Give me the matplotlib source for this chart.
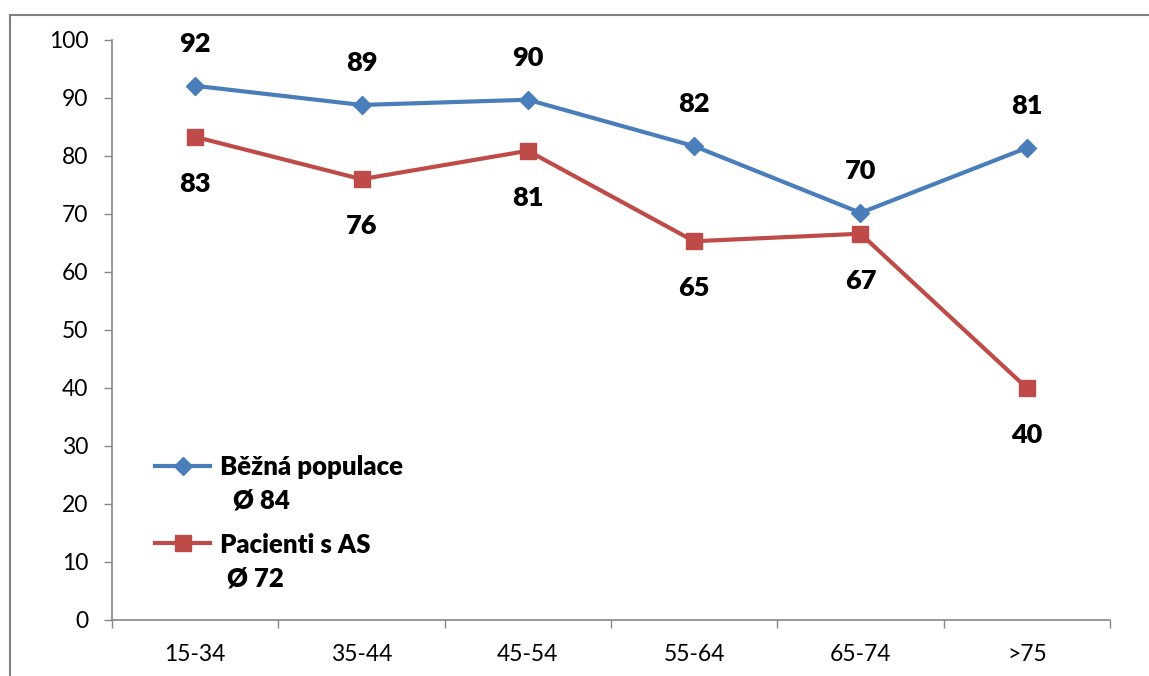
import matplotlib
matplotlib.use('Agg')
import matplotlib.pyplot as plt
from matplotlib.lines import Line2D

plt.rcParams['font.family'] = ['Lato', 'DejaVu Sans']

# data
categories = ['15-34', '35-44', '45-54', '55-64', '65-74', '>75']
bezna = [92.1, 88.8, 89.7, 81.7, 70.2, 81.4]
bezna_labels = ['92', '89', '90', '82', '70', '81']
pacienti = [83.3, 76.0, 80.9, 65.3, 66.6, 40.0]
pacienti_labels = ['83', '76', '81', '65', '67', '40']
yticks = [0, 10, 20, 30, 40, 50, 60, 70, 80, 90, 100]

blue = '#4A7EBB'
red = '#BE4B48'
axis_gray = '#868686'

W, H = 1149, 676
fig = plt.figure(figsize=(W / 100, H / 100), dpi=100)
ax = fig.add_axes([112 / W, 1 - 620 / H, 998 / W, 580 / H])

x = list(range(len(categories)))
ax.plot(x, bezna, color=blue, lw=3, marker='D', ms=9, zorder=3)
ax.plot(x, pacienti, color=red, lw=3, marker='s', ms=11, zorder=3)

for xi, v, lab in zip(x, bezna, bezna_labels):
    ax.annotate(lab, (xi, v), xytext=(0, 30), textcoords='offset points',
                ha='center', va='center', fontsize=19.5, fontweight='heavy')
for xi, v, lab in zip(x, pacienti, pacienti_labels):
    ax.annotate(lab, (xi, v), xytext=(0, -34), textcoords='offset points',
                ha='center', va='center', fontsize=19.5, fontweight='heavy')

ax.set_xlim(-0.5, len(categories) - 0.5)
ax.set_ylim(0, 100)
ax.set_yticks(yticks)
ax.tick_params(axis='y', length=6, width=1, color=axis_gray, pad=11, labelsize=16.5)

# category boundaries as major ticks, labels on minor ticks
ax.set_xticks([i - 0.5 for i in range(len(categories) + 1)])
ax.set_xticklabels([])
ax.set_xticks(x, minor=True)
ax.set_xticklabels(categories, minor=True)
ax.tick_params(axis='x', which='major', length=6, width=1, color=axis_gray)
ax.tick_params(axis='x', which='minor', length=0, pad=17, labelsize=16.5)

for s in ['top', 'right']:
    ax.spines[s].set_visible(False)
for s in ['left', 'bottom']:
    ax.spines[s].set_color(axis_gray)
    ax.spines[s].set_linewidth(1.2)

# manual legend
def fx(px):
    return px / W

def fy(py):
    return 1 - py / H

fig.add_artist(Line2D([fx(155), fx(210)], [fy(466), fy(466)], color=blue, lw=3))
fig.add_artist(Line2D([fx(182.5)], [fy(466)], color=blue, marker='D', ms=9))
fig.add_artist(Line2D([fx(155), fx(210)], [fy(543), fy(543)], color=red, lw=3))
fig.add_artist(Line2D([fx(182.5)], [fy(543)], color=red, marker='s', ms=11))
legend_font = dict(ha='left', va='center', fontsize=18.5, fontweight='heavy')
fig.text(fx(220), fy(467), 'Běžná populace', **legend_font)
fig.text(fx(233), fy(501), 'Ø 84', **legend_font)
fig.text(fx(220), fy(545), 'Pacienti s AS', **legend_font)
fig.text(fx(227), fy(578), 'Ø 72', **legend_font)

# outer frame (top and left only visible)
fig.add_artist(Line2D([fx(10), fx(W)], [fy(14.5), fy(14.5)], color='#808080', lw=1.5))
fig.add_artist(Line2D([fx(10), fx(10)], [fy(14.5), 0], color='#808080', lw=1.5))

fig.savefig('out.png', dpi=100)
